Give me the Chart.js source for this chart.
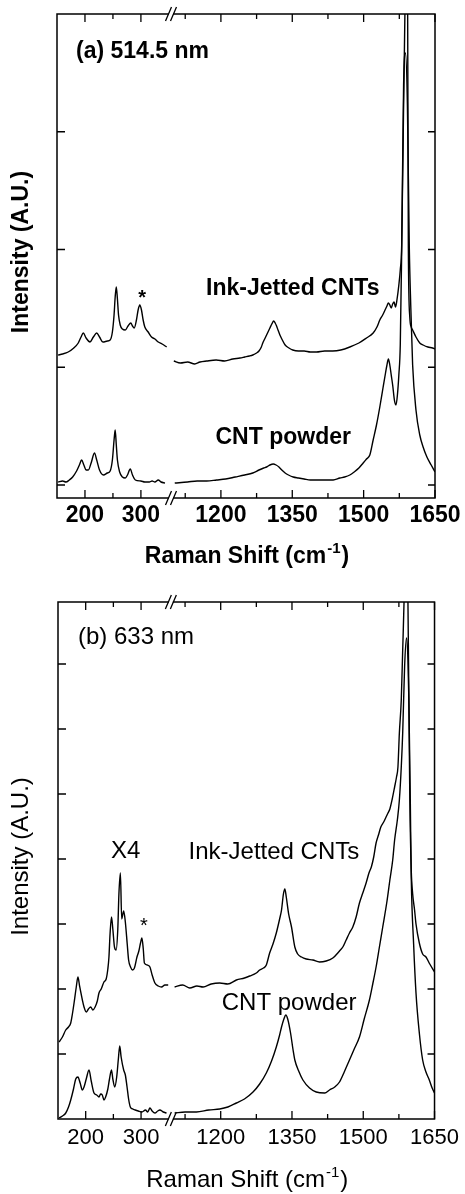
<!DOCTYPE html>
<html>
<head>
<meta charset="utf-8">
<script src="https://cdn.jsdelivr.net/npm/chart.js@4.4.1/dist/chart.umd.min.js"></script>
<style>
  html, body { margin: 0; padding: 0; background: #fff; }
  .panel { position: relative; width: 465px; }
</style>
</head>
<body>
<div class="panel"><canvas id="chartA" width="465" height="575"></canvas></div>
<div class="panel"><canvas id="chartB" width="465" height="619"></canvas></div>
<script>
// x axis is broken: low segment (RBM region) and high segment (D/G region)
const lowTicks = [200, 250, 300];
const lowLabels = [200, 300];
const highTicks = [1125, 1200, 1275, 1350, 1425, 1500, 1575, 1650];
const highLabels = [1200, 1350, 1500, 1650];

// ---- (a) 514.5 nm ----
const aInkLowX = [152,160,170,180,188,193,197,202,209,215,221,226,232,240,245,249,252,254,256,258,260,263,267,272,277,282,285,288,292,295,298,301,304,307,313,319,325,331,338,346];
const aInkLowY = [130,131,133,137,142,148,152,147,143,148,152,148,143,144,145,153,170,188,198,186,170,160,156,155,159,162,159,157,165,175,180,175,165,158,153,148,146,143,141,138];
const aPowLowX = [152,160,166,172,178,185,190,194,198,202,206,211,217,221,226,233,240,245,249,252,254,256,258,262,267,272,276,281,285,290,300,307,315,320,325,331,336,343];
const aPowLowY = [3,4,3,5,8,14,20,25,20,15,15,22,32,25,15,10,12,14,25,45,55,40,25,13,8,7,10,16,10,5,4,3,3,4,3,5,3,2];
const aInkHighX = [1101,1115,1130,1145,1156,1170,1190,1208,1225,1240,1250,1260,1267,1275,1280,1285,1288,1292,1296,1300,1303,1307,1311,1314,1317,1320,1324,1328,1335,1343,1351,1363,1375,1388,1401,1418,1435,1452,1471,1490,1506,1520,1528,1534,1540,1545,1549,1552,1555,1558,1561,1564,1567,1570,1574,1577,1580,1584,1587,1590,1592,1594,1597,1600,1603,1610,1618,1625,1635,1645,1650];
const aInkHighY = [124,122,123,121,123,124,125,124,126,127,128,129,130,132,134,138,142,146,150,154,157,161,164,162,159,155,150,146,140,137,135,134,134,133,133,134,134,135,138,142,147,152,158,165,170,175,179,182,180,177,181,183,178,185,200,215,240,380,480,640,560,237,168,158,155,148,142,140,138,137,136];
const aPowHighX = [1103,1130,1150,1170,1191,1210,1230,1250,1267,1280,1290,1296,1303,1310,1316,1322,1328,1335,1342,1352,1363,1375,1388,1401,1418,1436,1450,1460,1471,1480,1490,1499,1506,1513,1520,1527,1534,1541,1546,1549,1552,1555,1558,1561,1565,1568,1571,1574,1577,1580,1584,1588,1592,1596,1599,1603,1610,1618,1625,1633,1642,1650];
const aPowHighY = [2,3,4,4,5,6,8,10,12,15,17,18,20,21,20,18,15,12,10,8,7,6,5,5,5,5,7,8,10,13,17,22,26,30,45,60,78,98,112,120,126,120,110,100,84,80,90,110,140,235,400,432,380,237,180,120,75,50,38,28,20,13];
const aYTicks = [0, 117.75, 235.5, 353.25];

// ---- (b) 633 nm ----
const bInkLowX = [152,158,164,169,173,176,179,183,186,189,194,197,201,205,209,213,217,221,224,228,233,237,240,242,244,246.6,249,252,255,258,260,262.7,265,268.6,271.6,275,277.5,281,284.7,288,292.6,296,299,301.5,304,306,311,316,320,325,331,337,343,349];
const bInkLowY = [77,82,89,92,96,105,116,132,142,133,119,112,107,110,112,109,112,118,126,130,137,140,150,162,185,202,190,172,169,190,225,246,200,208,197,175,159,152,149,151,162,168,176,181,170,156,154,152,144,136,133,132,134,134];
const bPowLowX = [152,158,164,169,173,178,182,186,190,194,197,201,206,210,215,220,224,227,230,233,236,240,243,246.6,249,252.5,256,259,261.5,264,268.6,271.6,274.7,277.5,280.6,285,289.5,295,301.5,308,312,316,320,325,330,334,340,346];
const bPowLowY = [1,3,6,12,19,30,40,42,36,29,32,40,49,38,26,24,22,25,24,19,22,30,40,49,40,32,42,60,73,62,49,44,32,20,12,10,9,8,7,9,7,11,8,6,8,9,7,6];
const bInkHighX = [1103,1120,1135,1150,1163,1180,1198,1215,1233,1250,1261,1275,1282,1290,1296,1303,1310,1317,1324,1328,1332,1335,1338,1343,1349,1356,1362,1370,1380,1394,1408,1422,1436,1450,1457,1464,1471,1478,1485,1492,1499,1506,1512,1517,1522,1527,1532,1537,1543,1548,1552,1556,1561,1566,1570,1573,1576,1580,1583,1586,1590,1594,1596,1598,1601,1604,1608,1611,1618,1625,1632,1640,1650];
const bInkHighY = [132,134,131,133,132,135,136,135,139,141,143,146,149,151,154,166,175,186,200,209,225,230,222,205,192,172,165,162,160,159,157,158,161,168,172,179,186,192,202,216,226,236,246,252,262,276,284,292,297,302,306,310,320,332,342,352,386,419,469,520,620,520,419,320,249,225,209,195,176,165,162,155,147];
const bPowHighX = [1103,1125,1149,1175,1198,1215,1233,1250,1268,1282,1296,1307,1317,1324,1328,1333,1337,1341,1347,1352,1356,1365,1373,1387,1401,1419,1429,1440,1450,1460,1471,1481,1492,1502,1513,1520,1527,1534,1541,1550,1556,1562,1566,1572,1576,1580,1583,1587,1591,1594,1596,1599,1601,1606,1611,1618,1625,1632,1639,1645,1650];
const bPowHighY = [6,7,7,9,10,12,16,20,27,35,46,58,72,84,92,100,104,100,86,70,59,47,39,31,27,26,29,32,37,47,59,70,82,100,119,135,152,172,192,218,239,259,279,300,319,352,386,452,481,460,419,319,242,175,126,86,59,47,39,31,26];
const bYTicks = [65, 130, 195, 260, 325, 390, 455];

const FAMILY = '"Liberation Sans", Arial, Helvetica, sans-serif';

function pairs(xs, ys) {
    return xs.map((x, i) => ({ x: x, y: ys[i] }));
}

function trace(xs, ys, axis) {
    return {
        data: pairs(xs, ys),
        xAxisID: axis,
        yAxisID: 'y',
        showLine: true,
        borderColor: '#000',
        borderWidth: 1.4,
        pointRadius: 0,
        cubicInterpolationMode: 'monotone',
        fill: false
    };
}

function xAxis(min, max, weight, ticks, labels, p) {
    return {
        type: 'linear',
        position: 'bottom',
        stack: 'raman',
        stackWeight: weight,
        min: min,
        max: max,
        afterBuildTicks: s => { s.ticks = ticks.map(v => ({ value: v })); },
        afterFit: s => { s.height = p.axisHeight; },
        grid: { display: false, drawTicks: false },
        border: { display: false },
        ticks: {
            autoSkip: false,
            maxRotation: 0,
            padding: p.tickPad,
            color: '#000',
            font: { family: FAMILY, size: p.tickSize, weight: p.weight },
            callback: v => labels.includes(v) ? String(v) : ''
        }
    };
}

function decorPlugin(p) {
    return {
        id: 'decor',
        afterDatasetsDraw(chart) {
            const ctx = chart.ctx;
            const area = chart.chartArea;
            const xl = chart.scales.xl, xr = chart.scales.xr, y = chart.scales.y;
            ctx.save();
            ctx.strokeStyle = '#000';
            ctx.fillStyle = '#000';
            ctx.lineWidth = 1.5;
            ctx.strokeRect(area.left, area.top, area.right - area.left, area.bottom - area.top);

            // ticks point inward, top and bottom, left and right
            ctx.lineWidth = 1.3;
            ctx.beginPath();
            [[xl, lowLabels], [xr, highLabels]].forEach(([s, labelled]) => {
                s.ticks.forEach(t => {
                    const px = s.getPixelForValue(t.value);
                    const len = labelled.includes(t.value) ? 8 : 5;
                    ctx.moveTo(px, area.bottom); ctx.lineTo(px, area.bottom - len);
                    ctx.moveTo(px, area.top); ctx.lineTo(px, area.top + len);
                });
            });
            p.yTicks.forEach(v => {
                const py = y.getPixelForValue(v);
                ctx.moveTo(area.left, py); ctx.lineTo(area.left + 8, py);
                ctx.moveTo(area.right, py); ctx.lineTo(area.right - 7, py);
            });
            ctx.stroke();

            // axis break //
            const bx = xl.right;
            [area.top, area.bottom].forEach(by => {
                ctx.fillStyle = '#fff';
                ctx.fillRect(bx - 1, by - 2, 4, 4);
                ctx.beginPath();
                ctx.moveTo(bx - 4.5, by + 7); ctx.lineTo(bx + 1.5, by - 7);
                ctx.moveTo(bx + 0.5, by + 7); ctx.lineTo(bx + 6.5, by - 7);
                ctx.stroke();
            });
            ctx.fillStyle = '#000';

            // in-plot labels
            p.notes.forEach(n => {
                const px = chart.scales[n.axis].getPixelForValue(n.x);
                const py = y.getPixelForValue(n.y);
                if (n.text === '*') {
                    ctx.font = p.weight + ' 20px ' + FAMILY;
                    ctx.textAlign = 'center';
                    ctx.textBaseline = 'alphabetic';
                    ctx.fillText('*', px, py + 11);
                    return;
                }
                ctx.font = p.weight + ' ' + p.noteSize + 'px ' + FAMILY;
                ctx.textAlign = n.align || 'center';
                ctx.textBaseline = 'middle';
                ctx.fillText(n.text, px, py);
            });

            // x title with superscript
            const cx = (area.left + area.right) / 2;
            const big = p.weight + ' ' + p.titleSize + 'px ' + FAMILY;
            const small = p.weight + ' 15px ' + FAMILY;
            ctx.textBaseline = 'alphabetic';
            ctx.textAlign = 'left';
            ctx.font = big;
            const w1 = ctx.measureText('Raman Shift (cm').width;
            const w3 = ctx.measureText(')').width;
            ctx.font = small;
            const w2 = ctx.measureText('-1').width;
            let x0 = cx - (w1 + w2 + w3) / 2;
            ctx.font = big;
            ctx.fillText('Raman Shift (cm', x0, p.titleBase);
            ctx.font = small;
            ctx.fillText('-1', x0 + w1 + 1, p.titleBase - 10);
            ctx.font = big;
            ctx.fillText(')', x0 + w1 + w2 + 2, p.titleBase);

            // y title
            ctx.translate(p.yTitleX, (area.top + area.bottom) / 2 - 4);
            ctx.rotate(-Math.PI / 2);
            ctx.textAlign = 'center';
            ctx.textBaseline = 'middle';
            ctx.fillText('Intensity (A.U.)', 0, 0);
            ctx.restore();
        }
    };
}

function makePanel(id, p) {
    new Chart(document.getElementById(id), {
        type: 'scatter',
        data: { datasets: p.datasets },
        options: {
            responsive: false,
            animation: false,
            devicePixelRatio: 1,
            layout: { padding: { left: p.left, right: 30, top: p.top, bottom: 0 } },
            plugins: { legend: { display: false }, tooltip: { enabled: false } },
            scales: {
                xl: xAxis(150, 352, p.lowWidth, lowTicks, lowLabels, p),
                xr: xAxis(1093, 1650, 265, highTicks, highLabels, p),
                y: { type: 'linear', display: false, min: p.yMin, max: p.yMax }
            }
        },
        plugins: [decorPlugin(p)]
    });
}

makePanel('chartA', {
    left: 57, top: 14, axisHeight: 77, lowWidth: 113, tickPad: 4,
    yMin: -13, yMax: 471, yTicks: aYTicks,
    weight: 'bold', tickSize: 23, noteSize: 23, titleSize: 23, titleBase: 563, yTitleX: 22,
    datasets: [
        trace(aInkLowX, aInkLowY, 'xl'),
        trace(aInkHighX, aInkHighY, 'xr'),
        trace(aPowLowX, aPowLowY, 'xl'),
        trace(aPowHighX, aPowHighY, 'xr')
    ],
    notes: [
        { text: '(a) 514.5 nm', axis: 'xl', x: 184, y: 433, align: 'left' },
        { text: 'Ink-Jetted CNTs', axis: 'xr', x: 1351, y: 196 },
        { text: '*', axis: 'xl', x: 302, y: 192 },
        { text: 'CNT powder', axis: 'xr', x: 1331, y: 47 }
    ]
});

makePanel('chartB', {
    left: 58, top: 27, axisHeight: 75, lowWidth: 112, tickPad: 6,
    yMin: 0, yMax: 517, yTicks: bYTicks,
    weight: 'normal', tickSize: 22, noteSize: 24, titleSize: 24, titleBase: 612, yTitleX: 21,
    datasets: [
        trace(bInkLowX, bInkLowY, 'xl'),
        trace(bInkHighX, bInkHighY, 'xr'),
        trace(bPowLowX, bPowLowY, 'xl'),
        trace(bPowHighX, bPowHighY, 'xr')
    ],
    notes: [
        { text: '(b) 633 nm', axis: 'xl', x: 186, y: 482, align: 'left' },
        { text: 'X4', axis: 'xl', x: 272, y: 268 },
        { text: 'Ink-Jetted CNTs', axis: 'xr', x: 1312, y: 267 },
        { text: '*', axis: 'xl', x: 305, y: 198 },
        { text: 'CNT powder', axis: 'xr', x: 1344, y: 116 }
    ]
});
</script>
</body>
</html>
